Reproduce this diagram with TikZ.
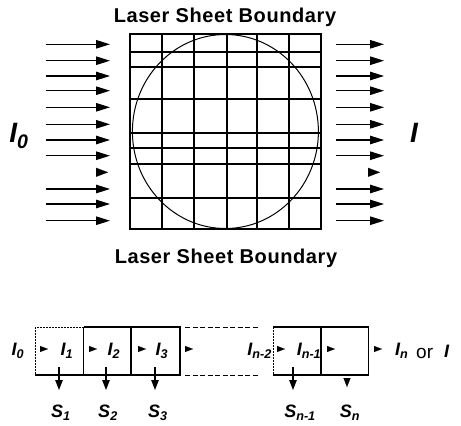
\documentclass[tikz,border=0pt]{standalone}
\usepackage{fontspec}
\setmainfont{Liberation Sans}
\newfontfamily\titlefont[LetterSpace=3.0]{Liberation Sans}
\usetikzlibrary{arrows.meta}
\begin{document}
\begin{tikzpicture}[x=1pt,y=-1pt,
  title/.style={font=\titlefont\fontsize{20}{20}\selectfont\bfseries, inner sep=0pt},
  gridline/.style={line width=1.7pt},
  ray/.style={line width=1.2pt,-{Triangle[length=14pt,width=8.5pt]}},
  headonly/.style={line width=0.1pt,-{Triangle[length=12pt,width=9pt]}},
  smallhead/.style={line width=0.1pt,-{Triangle[length=8pt,width=6pt]}},
  downarrow/.style={line width=1.1pt,-{Triangle[length=10pt,width=7.5pt]}},
  boxline/.style={line width=1.7pt},
  bigsym/.style={font=\fontsize{28}{28}\selectfont\bfseries\itshape, inner sep=0pt},
  sym/.style={font=\fontsize{18}{18}\selectfont\bfseries\itshape, inner sep=0pt},
  plain/.style={font=\fontsize{19}{19}\selectfont, inner sep=0pt}]
\useasboundingbox (0,0) rectangle (461,426);
\fill[white] (0,0) rectangle (461,426);

% titles
\node[title, anchor=base] (ttop) at (225,22) {Laser Sheet Boundary};
\node[title, anchor=base] (tbot) at (226,263) {Laser Sheet Boundary};

% grid square
\draw[gridline] (130,34.3) rectangle (320.7,228.7);
\foreach \gx in {162.3,194.3,226.7,256.7,288.7}
  \draw[gridline] (\gx,34.3) -- (\gx,228.7);
\foreach \gy in {51.7,66.7,99.3,132.7,147.7,164.3,197.7}
  \draw[gridline] (130,\gy) -- (320.7,\gy);
\draw[line width=1pt] (225.4,131.5) ellipse [x radius=93, y radius=97];

% incoming and outgoing rays
\foreach \ry in {44.3,60.7,76,90.7,107.3,124.3,140,155.7,189,204,220.7} {
  \draw[ray] (45.7,\ry) -- (110,\ry);
  \draw[ray] (336,\ry) -- (384,\ry);
}
\draw[headonly] (96,172.3) -- (108,172.3);
\draw[headonly] (368,172.3) -- (380,172.3);

\node[bigsym] (Izero) at (19,136) {I\textsubscript{0}};
\node[bigsym] (Iout) at (414,133) {I};

% bottom cells
\draw[boxline] (35,375) -- (180,375) -- (180,327) -- (83.5,327);
\draw[line width=0.8pt, dash pattern=on 2pt off 1pt] (83.5,327) -- (35,327) -- (35,375);
\draw[boxline] (83.5,327) -- (83.5,375);
\draw[boxline] (131,327) -- (131,375);
\draw[line width=1pt, dash pattern=on 5pt off 2.5pt] (185,327) -- (258,327);
\draw[line width=1pt, dash pattern=on 5pt off 2.5pt] (185,375) -- (258,375);
\draw[boxline] (273,375) -- (368.5,375) -- (368.5,327) -- (273,327);
\draw[line width=0.8pt, dash pattern=on 2pt off 1pt] (273,327) -- (273,375);
\draw[boxline] (321,327) -- (321,375);

% small heads
\foreach \hx in {40,89,138,185,277,327,374}
  \draw[smallhead] (\hx,349) -- (\hx+8,349);

\node[sym] (Ib0) at (18,351) {I\textsubscript{0}};
\node[sym] (Ib1) at (67,351) {I\textsubscript{1}};
\node[sym] (Ib2) at (114,351) {I\textsubscript{2}};
\node[sym] (Ib3) at (162,351) {I\textsubscript{3}};
\node[sym, anchor=east] (Ibn2) at (272,351) {I\textsubscript{n-2}};
\node[sym] (Ibn1) at (309,351) {I\textsubscript{n-1}};
\node[sym, anchor=west] (Ibn) at (395,351) {I\textsubscript{n}};
\node[plain, anchor=base west] (orw) at (416,358) {or};
\node[sym, anchor=west] (Ibi) at (444,351) {I};

% signals
\foreach \dx in {59,106,155,293}
  \draw[downarrow] (\dx,367) -- (\dx,390);
\draw[headonly, -{Triangle[length=9pt,width=7pt]}] (347,378) -- (347,387);

\node[sym] (S1) at (61,413) {S\textsubscript{1}};
\node[sym] (S2) at (108,413) {S\textsubscript{2}};
\node[sym] (S3) at (158,413) {S\textsubscript{3}};
\node[sym] (Sn1) at (300,413) {S\textsubscript{n-1}};
\node[sym] (Sn) at (350,413) {S\textsubscript{n}};
\end{tikzpicture}
\end{document}
